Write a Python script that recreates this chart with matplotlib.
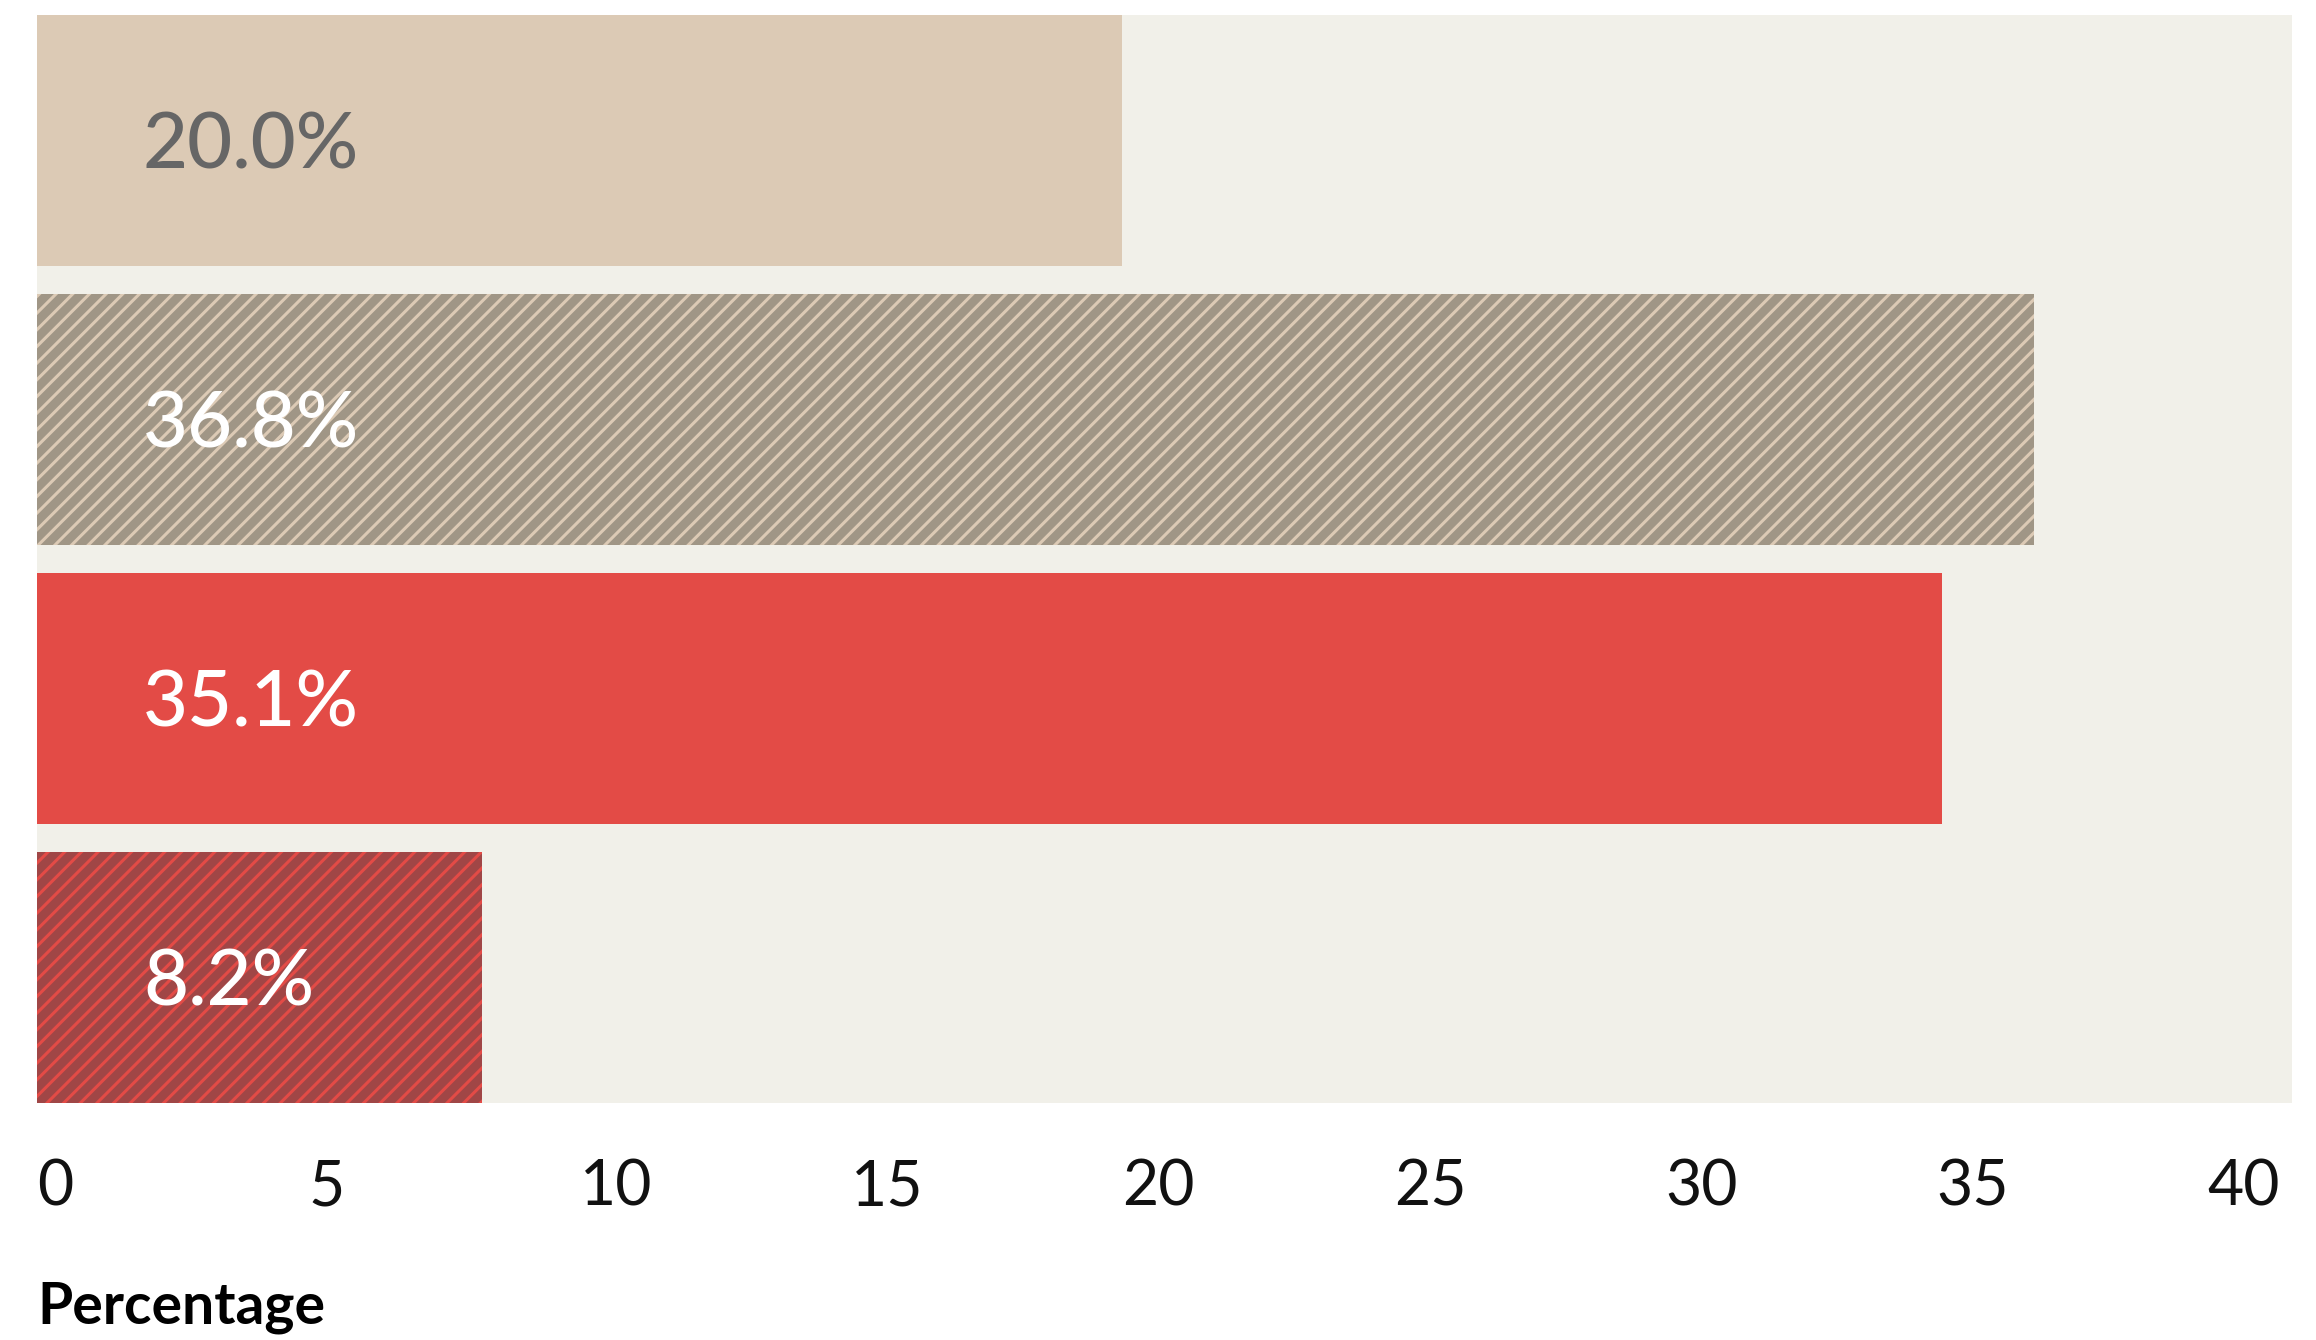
import matplotlib.pyplot as plt

# share of respondents per group, top to bottom
groups = ['A', 'B', 'C', 'D']
values = [20.0, 36.8, 35.1, 8.2]
labels = ['20.0%', '36.8%', '35.1%', '8.2%']
ticks = [0, 5, 10, 15, 20, 25, 30, 35, 40]

face = ['#dccab5', '#a09686', '#e34b46', '#a04646']
hatch_col = ['#dccab5', '#dccab5', '#e34b46', '#e34b46']
hatches = [None, '//', None, '//']
text_col = ['#666666', 'white', 'white', 'white']

plt.rcParams['font.family'] = ['Lato', 'DejaVu Sans']
plt.rcParams['hatch.linewidth'] = 2.2

fig = plt.figure(figsize=(23.16, 13.4), dpi=100)
ax = fig.add_axes([0.016, 0.177, 0.9736, 0.812])
ax.set_facecolor('#f1f0e9')

ypos = list(range(len(values)))
for i in ypos:
    ax.barh(i, values[i], height=0.9, color=face[i], edgecolor=hatch_col[i],
            hatch=hatches[i], linewidth=0)
    ax.text(1.95, i, labels[i], color=text_col[i], fontsize=56,
            va='center_baseline', ha='left', fontweight='medium')

ax.set_ylim(3.45, -0.45)
ax.set_xlim(0, 41.55)
ax.set_yticks([])
ax.set_xticks(ticks)
ax.set_xticklabels([str(t) for t in ticks], fontsize=45, color='#111111', ha='left')
ax.tick_params(axis='x', length=0, pad=40)
for s in ax.spines.values():
    s.set_visible(False)

fig.text(0.016, 1 - 1307 / 1340, 'Percentage', fontsize=41, fontweight='bold',
         va='center', ha='left')

fig.savefig('out.png', dpi=100)
